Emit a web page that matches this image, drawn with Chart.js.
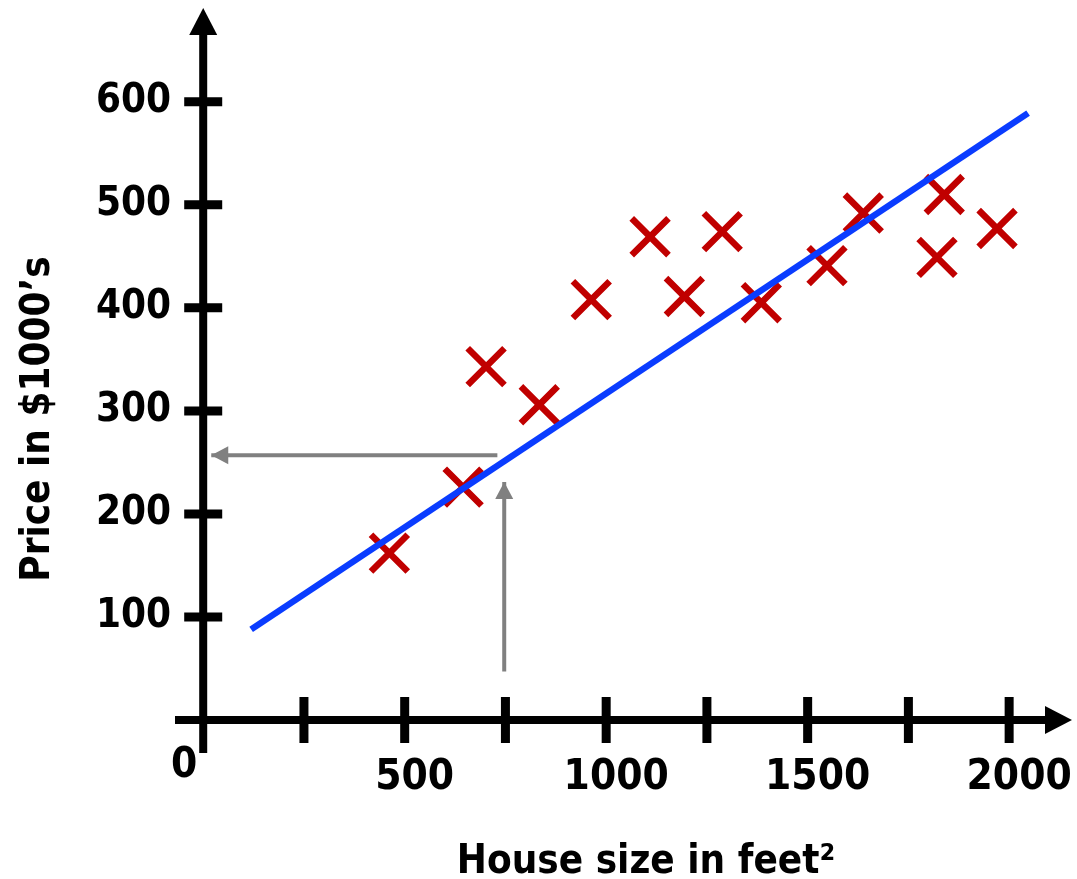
<!DOCTYPE html>
<html>
<head>
<meta charset="utf-8">
<title>House price vs size</title>
<script src="https://cdn.jsdelivr.net/npm/chart.js@4.4.1/dist/chart.umd.min.js"></script>
<style>
  html, body { margin: 0; padding: 0; background: #fff; }
  #wrap { width: 1077px; height: 879px; }
</style>
</head>
<body>
<div id="wrap"><canvas id="priceChart"></canvas></div>
<script>
// training examples: size in feet^2, price in $1000's
const SIZES  = [462, 645, 702, 834, 963, 1109, 1194, 1288, 1385, 1548, 1638, 1821, 1839, 1970];
const PRICES = [162, 226, 343, 306, 408, 469, 411, 474, 405, 441, 492, 449, 510, 477];

// fitted straight line (two end points)
const FIT_X = [119, 2047];
const FIT_Y = [88, 589];

// prediction arrows: up from the size axis, then left to the price axis
const UP_ARROW_X   = [747, 747];
const UP_ARROW_Y   = [47, 231];
const LEFT_ARROW_X = [730, 20];
const LEFT_ARROW_Y = [257, 257];

// axes
const X_RANGE  = [-70, 2156];
const Y_RANGE  = [-32, 691];
const X_TICKS  = [250, 500, 750, 1000, 1250, 1500, 1750, 2000];
const X_LABELS = ['', '500', '', '1000', '', '1500', '', '2000'];
const Y_TICKS  = [100, 200, 300, 400, 500, 600];
const ORIGIN_LABEL = '0';
const X_TITLE = 'House size in feet²';
const Y_TITLE = 'Price in $1000’s';

const FONT = '"DejaVu Sans Condensed", "Liberation Sans Narrow", "DejaVu Sans", sans-serif';

function toPoints(xs, ys) {
  return xs.map((x, i) => ({ x: x, y: ys[i] }));
}

function arrowHead(ctx, tipX, tipY, dx, dy, len, half) {
  // dx, dy: unit vector the arrow points along
  const bx = tipX - dx * len;
  const by = tipY - dy * len;
  ctx.beginPath();
  ctx.moveTo(tipX, tipY);
  ctx.lineTo(bx - dy * half, by + dx * half);
  ctx.lineTo(bx + dy * half, by - dx * half);
  ctx.closePath();
  ctx.fill();
}

// black axes with arrows and ticks crossing the line, plus the axis titles
const axesPlugin = {
  id: 'arrowAxes',
  beforeDatasetsDraw(chart) {
    const { ctx, chartArea: a, scales: { x, y } } = chart;
    const x0 = x.getPixelForValue(0);
    const y0 = y.getPixelForValue(0);
    ctx.save();
    ctx.fillStyle = '#000';
    ctx.strokeStyle = '#000';
    ctx.lineWidth = 8;
    ctx.beginPath();
    ctx.moveTo(x0, a.bottom);
    ctx.lineTo(x0, a.top + 24);
    ctx.moveTo(a.left, y0);
    ctx.lineTo(a.right - 24, y0);
    ctx.stroke();
    arrowHead(ctx, x0, a.top, 0, -1, 27, 14);
    arrowHead(ctx, a.right, y0, 1, 0, 27, 14);

    ctx.lineWidth = 9;
    ctx.beginPath();
    x.ticks.forEach(t => {
      const px = x.getPixelForValue(t.value);
      ctx.moveTo(px, y0 - 23);
      ctx.lineTo(px, y0 + 23);
    });
    y.ticks.forEach(t => {
      const py = y.getPixelForValue(t.value);
      ctx.moveTo(x0 - 19, py);
      ctx.lineTo(x0 + 19, py);
    });
    ctx.stroke();

    ctx.font = 'bold 42px ' + FONT;
    ctx.textAlign = 'right';
    ctx.textBaseline = 'alphabetic';
    ctx.fillText(ORIGIN_LABEL, x0 - 6, y0 + 57);

    ctx.font = 'bold 40px ' + FONT;
    ctx.textAlign = 'center';
    ctx.fillText(X_TITLE, 646, 873);

    ctx.translate(49, 419);
    ctx.rotate(-Math.PI / 2);
    ctx.fillText(Y_TITLE, 0, 0);
    ctx.restore();
  },
  afterDatasetsDraw(chart) {
    // grey arrow heads at the last point of each arrow dataset
    const { ctx } = chart;
    ctx.save();
    ctx.fillStyle = '#808080';
    chart.data.datasets.forEach((ds, i) => {
      if (!ds.isArrow) return;
      const pts = chart.getDatasetMeta(i).data;
      const p = pts[pts.length - 1], q = pts[pts.length - 2];
      const len = Math.hypot(p.x - q.x, p.y - q.y);
      arrowHead(ctx, p.x, p.y, (p.x - q.x) / len, (p.y - q.y) / len, 17, 9);
    });
    ctx.restore();
  }
};

const tickFont = { family: FONT, size: 40, weight: 'bold' };

new Chart(document.getElementById('priceChart'), {
  type: 'scatter',
  data: {
    datasets: [
      {
        type: 'line',
        label: 'Fit',
        data: toPoints(FIT_X, FIT_Y),
        borderColor: '#0a3cff',
        borderWidth: 6.5,
        pointRadius: 0,
        fill: false
      },
      {
        label: 'Training set',
        data: toPoints(SIZES, PRICES),
        pointStyle: 'crossRot',
        pointRadius: 26,
        pointHoverRadius: 26,
        borderColor: '#c00000',
        backgroundColor: '#c00000',
        borderWidth: 6.5
      },
      {
        type: 'line',
        label: 'Size',
        isArrow: true,
        data: toPoints(UP_ARROW_X, UP_ARROW_Y),
        borderColor: '#808080',
        borderWidth: 4,
        pointRadius: 0
      },
      {
        type: 'line',
        label: 'Price',
        isArrow: true,
        data: toPoints(LEFT_ARROW_X, LEFT_ARROW_Y),
        borderColor: '#808080',
        borderWidth: 4,
        pointRadius: 0
      }
    ]
  },
  options: {
    responsive: true,
    maintainAspectRatio: false,
    animation: false,
    layout: {
      autoPadding: false,
      padding: { top: 8, right: 5, left: 0, bottom: 0 }
    },
    plugins: {
      legend: { display: false },
      tooltip: { enabled: false }
    },
    scales: {
      x: {
        type: 'linear',
        min: X_RANGE[0],
        max: X_RANGE[1],
        grid: { display: false, drawTicks: false },
        border: { display: false },
        afterBuildTicks: s => { s.ticks = X_TICKS.map(v => ({ value: v })); },
        afterFit: s => { s.height = 126; s.paddingLeft = 0; s.paddingRight = 0; },
        ticks: {
          autoSkip: false,
          maxRotation: 0,
          padding: 0,
          labelOffset: 10,
          color: '#000',
          font: { family: FONT, size: 42, weight: 'bold' },
          callback: v => X_LABELS[X_TICKS.indexOf(v)] || ''
        }
      },
      y: {
        type: 'linear',
        min: Y_RANGE[0],
        max: Y_RANGE[1],
        grid: { display: false, drawTicks: false },
        border: { display: false },
        afterBuildTicks: s => { s.ticks = Y_TICKS.map(v => ({ value: v })); },
        afterFit: s => { s.width = 175; s.paddingTop = 0; s.paddingBottom = 0; },
        ticks: {
          autoSkip: false,
          padding: 4,
          color: '#000',
          font: tickFont
        }
      }
    }
  },
  plugins: [axesPlugin]
});
</script>
</body>
</html>
